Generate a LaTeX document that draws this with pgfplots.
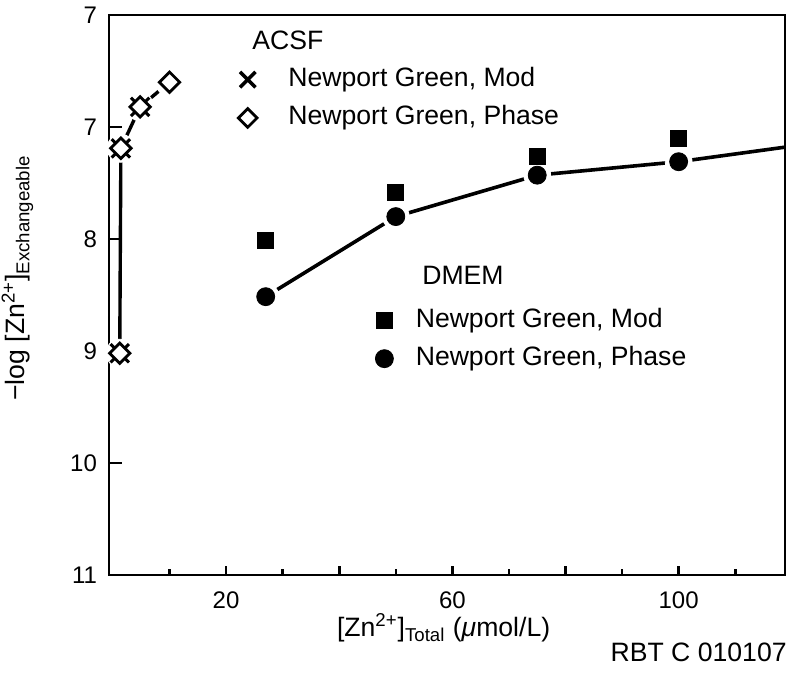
\documentclass[border=0pt]{standalone}
\usepackage{fontspec}
\setmainfont{Liberation Sans}
\usepackage{pgfplots}
\pgfplotsset{compat=1.18}

\newcommand{\txt}{\fontsize{13.3}{16}\selectfont}

\begin{document}
\begin{tikzpicture}
\pgfplotsset{
  base/.style={
    scale only axis, width=338pt, height=280pt,
    xmin=-0.7, xmax=118.8, ymin=6, ymax=11, y dir=reverse,
    legend cell align=left,
    legend image code/.code={\path (0pt,0pt) (14pt,0pt); \draw[##1] plot coordinates {(7pt,0pt)};},
  },
  leg/.style={draw=none, fill=none, inner sep=0pt, outer sep=0pt, anchor=west,
    font=\txt, nodes={inner sep=0pt, text height=10pt, text depth=3pt},
    row sep=6.15pt},
}
% ACSF + frame
\begin{axis}[base,
  axis on top,
  axis line style={line width=1.3pt},
  every tick/.style={black, line width=1.3pt},
  major tick length=4.5pt, minor tick length=3pt,
  ytick style={/pgfplots/major tick length=6.5pt},
  xtick={20,40,60,80,100}, xticklabels={20,,60,,100},
  minor xtick={10,30,50,70,90,110},
  ytick={6,7,8,9,10,11}, yticklabels={7,7,8,9,10,11},
  xtick pos=left, ytick pos=left,
  /pgf/number format/assume math mode=true,
  tick label style={font=\fontsize{12}{14}\selectfont},
  xticklabel style={yshift=-5pt},
  yticklabel style={xshift=-2.5pt},
  xlabel={[Zn\textsuperscript{2+}]\textsubscript{Total} (\textit{μ}mol/L)},
  ylabel={−log [Zn\textsuperscript{2+}]\textsubscript{Exchangeable}},
  every axis x label/.style={at={(axis description cs:0.4950,-0.1107)}, anchor=base, font=\txt},
  every axis y label/.style={at={(axis description cs:-0.1243,0.5304)}, rotate=90, anchor=base, font=\txt},
  legend style={leg, at={(axis description cs:0.182,0.8504)}, column sep=12.5pt},
]
\addplot[line width=1.7pt, forget plot] coordinates {(1.2,9.02) (1.4,7.19) (4.8,6.82) (10,6.6)};
\addplot[only marks, mark=*, mark size=7pt, white, forget plot] coordinates {(1.2,9.02) (1.4,7.19) (4.8,6.82) (10,6.6)};
\addplot[only marks, mark=x, mark size=6.5pt, line width=1.5pt, forget plot] coordinates {(1.2,9.02) (1.4,7.19) (4.8,6.82)};
\addplot[only marks, mark=square*, mark size=3.6pt, mark options={rotate=45, fill=white}, line width=1.4pt, forget plot] coordinates {(1.2,9.02) (1.4,7.19) (4.8,6.82) (10,6.6)};
\addlegendimage{only marks, mark=x, mark size=5.5pt, line width=1.7pt}
\addlegendentry{Newport Green, Mod}
\addlegendimage{only marks, mark=square, mark size=3.3pt, mark options={rotate=45}, line width=1.4pt}
\addlegendentry{Newport Green, Phase}
\node[anchor=west, font=\txt, inner sep=0pt] at (axis description cs:0.2115,0.9541) {ACSF};
\coordinate (bl) at (axis description cs:0,0);
\coordinate (rbt) at (axis description cs:1.003,-0.1548);
\end{axis}
% DMEM
\begin{axis}[base, hide axis,
  legend style={leg, at={(axis description cs:0.3861,0.4205)}, column sep=8.5pt},
]
\addplot[line width=1.8pt, forget plot] coordinates {(27,8.515) (50,7.80) (75,7.43) (100,7.31) (118.8,7.18)};
\addplot[only marks, mark=*, mark size=6.7pt, white, forget plot] coordinates {(27,8.515) (50,7.80) (75,7.43) (100,7.31)};
\addplot[only marks, mark=square*, mark size=4pt] coordinates {(27,8.01) (50,7.58) (75,7.265) (100,7.10)};
\addlegendentry{Newport Green, Mod}
\addplot[only marks, mark=*, mark size=4.5pt] coordinates {(27,8.515) (50,7.80) (75,7.43) (100,7.31)};
\addlegendentry{Newport Green, Phase}
\node[anchor=west, font=\txt, inner sep=0pt] at (axis description cs:0.4630,0.5357) {DMEM};
\end{axis}
\node[anchor=base east, font=\txt, inner sep=0pt] at (rbt) {RBT C 010107};
\pgfresetboundingbox
\path (bl) ++(-54.5pt,-50pt) rectangle ++(400pt,337.5pt);
\end{tikzpicture}
\end{document}
